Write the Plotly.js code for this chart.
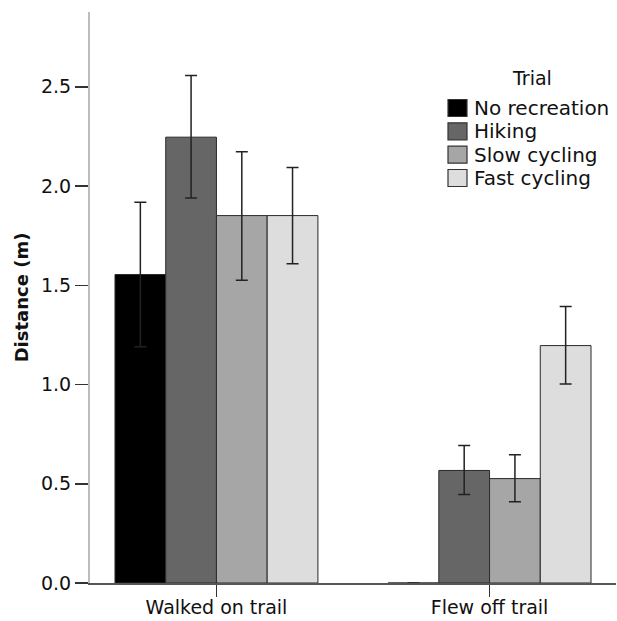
<!DOCTYPE html>
<html>
<head>
<meta charset="utf-8">
<script src="https://cdn.plot.ly/plotly-3.0.1.min.js"></script>
<style>html,body{margin:0;padding:0;background:#fff;}#chart{width:617px;height:621px;}</style>
</head>
<body>
<div id="chart"></div>
<script>
// ---- data ----
const categories = ["Walked on trail", "Flew off trail"];
const trials = ["No recreation", "Hiking", "Slow cycling", "Fast cycling"];
const means = {
  "No recreation": [1.554, 0.0],
  "Hiking":        [2.246, 0.567],
  "Slow cycling":  [1.851, 0.526],
  "Fast cycling":  [1.851, 1.196]
};
const errUpper = {
  "No recreation": [0.364, 0.0],
  "Hiking":        [0.311, 0.126],
  "Slow cycling":  [0.321, 0.120],
  "Fast cycling":  [0.242, 0.197]
};
const errLower = {
  "No recreation": [0.364, 0.0],
  "Hiking":        [0.307, 0.121],
  "Slow cycling":  [0.326, 0.117],
  "Fast cycling":  [0.243, 0.193]
};
const yTickVals = [0, 0.5, 1.0, 1.5, 2.0, 2.5];
const yTickText = ["0.0", "0.5", "1.0", "1.5", "2.0", "2.5"];
const colors = ["#000000", "#666666", "#a6a6a6", "#dddddd"];

// ---- layout geometry ----
const W = 617, H = 621;
const M = {l: 90, r: 1, t: 12, b: 38};
const plotW = W - M.l - M.r, plotH = H - M.t - M.b;
const px = X => (X - M.l) / plotW;
const py = Y => (H - M.b - Y) / plotH;

const traces = trials.map((t, i) => ({
  type: "bar",
  name: t,
  x: [0, 1],
  y: means[t],
  marker: {color: colors[i], line: {color: "#2a2a2a", width: 1}},
  error_y: {
    type: "data", symmetric: false,
    array: errUpper[t], arrayminus: errLower[t],
    color: "#222222", thickness: 1.5, width: 6
  },
  showlegend: false,
  hoverinfo: "skip"
}));

const font = "DejaVu Sans, Verdana, sans-serif";
const shapes = [], annotations = [];
annotations.push({
  xref: "paper", yref: "paper", x: px(532), y: py(78),
  text: "Trial", showarrow: false, xanchor: "center", yanchor: "middle",
  font: {family: font, size: 19, color: "#111"}
});
const rowY = [108, 131.3, 154.7, 178];
trials.forEach((t, i) => {
  const cy = rowY[i];
  shapes.push({
    type: "rect", xref: "paper", yref: "paper",
    x0: px(448), x1: px(467), y0: py(cy - 8.5), y1: py(cy + 8.5),
    fillcolor: colors[i], line: {color: "#333", width: 1.2}
  });
  annotations.push({
    xref: "paper", yref: "paper", x: px(472), y: py(cy),
    text: t, showarrow: false, xanchor: "left", yanchor: "middle",
    font: {family: font, size: 20, color: "#111"}
  });
});

const layout = {
  width: W, height: H,
  margin: M,
  paper_bgcolor: "#fff", plot_bgcolor: "#fff",
  barmode: "group", bargap: 0.257, bargroupgap: 0,
  font: {family: font, size: 19, color: "#111"},
  xaxis: {
    range: [-0.463, 1.463],
    tickvals: [0, 1], ticktext: categories,
    ticks: "outside", ticklen: 12, tickwidth: 1.5, tickcolor: "#333",
    ticklabelstandoff: -5,
    showline: true, linecolor: "#555", linewidth: 1.5,
    showgrid: false, zeroline: false,
    tickfont: {family: font, size: 19, color: "#111"}
  },
  yaxis: {
    range: [0, plotH / 198.5],
    tickvals: yTickVals, ticktext: yTickText,
    ticks: "outside", ticklen: 13, tickwidth: 1.5, tickcolor: "#333",
    showline: true, linecolor: "#bdbdbd", linewidth: 2,
    showgrid: false, zeroline: false,
    tickfont: {family: font, size: 19, color: "#111"},
    title: {text: "<b>Distance (m)</b>", font: {family: font, size: 18, color: "#111"}, standoff: 8}
  },
  shapes: shapes,
  annotations: annotations
};

Plotly.newPlot("chart", traces, layout, {displayModeBar: false, staticPlot: true});
</script>
</body>
</html>
